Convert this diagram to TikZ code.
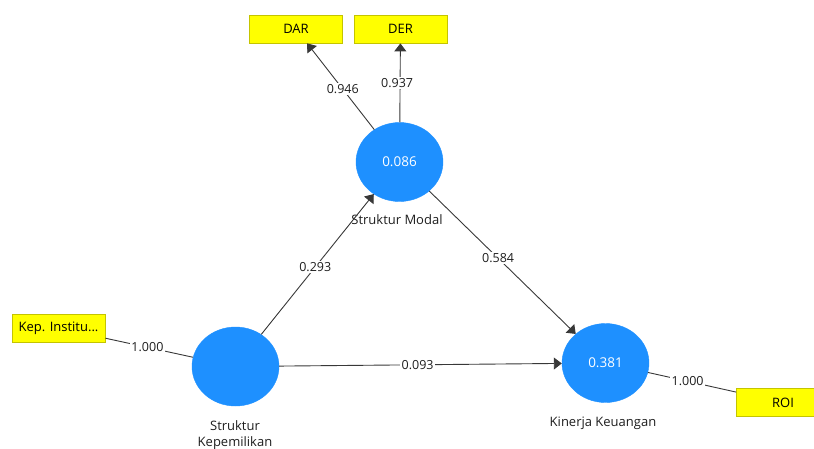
\documentclass[tikz,border=0pt]{standalone}
\usepackage{fontspec}
\setmainfont{Open Sans}
\usetikzlibrary{arrows.meta,shapes.geometric}
\definecolor{lvfill}{RGB}{30,144,255}
\definecolor{indfill}{RGB}{255,255,0}
\definecolor{indline}{RGB}{196,196,0}
\definecolor{lncol}{RGB}{56,56,56}
\definecolor{txcol}{RGB}{30,30,30}
\begin{document}
\begin{tikzpicture}[x=1pt,y=-1pt,
  lvar/.style={ellipse,fill=lvfill,draw=lvfill,minimum width=87pt,minimum height=79pt,inner sep=0pt,text=white,font=\fontsize{13.5}{15}\selectfont},
  mvar/.style={rectangle,fill=indfill,draw=indline,line width=0.8pt,minimum width=93pt,minimum height=28pt,inner sep=0pt,text=black,font=\fontsize{13}{15}\selectfont},
  conn/.style={draw=lncol,line width=0.9pt},
  arr/.style={conn,-{Triangle[length=8pt,width=12pt]}},
  wt/.style={fill=white,inner sep=1.5pt,text=txcol,font=\fontsize{12.5}{14}\selectfont},
  capt/.style={align=center,text=txcol,font=\fontsize{13}{16}\selectfont,inner sep=0pt}
]
\useasboundingbox (0,0) rectangle (814,448);
% latent variables
\node[lvar] (sm) at (399.5,162) {0.086};
\node[lvar] (sk) at (235.5,366.5) {};
\node[lvar] (kk) at (605.5,363) {0.381};
% indicators
\node[mvar] (dar) at (296,29) {DAR};
\node[mvar] (der) at (400.5,29) {DER};
\node[mvar] (kep) at (58.5,328) {Kep. Institu...};
\node[mvar] (roi) at (783,402.5) {ROI};
% captions
\node[capt] (smc) at (397,220) {Struktur Modal};
\node[capt] (skc) at (235,435) {Struktur\\Kepemilikan};
\node[capt] (kkc) at (603,423) {Kinerja Keuangan};
% connectors
\draw[arr] (sm) -- node[wt,pos=0.47] {0.946} (dar);
\draw[arr] (sm) -- node[wt,pos=0.5,xshift=-3pt] {0.937} (der);
\draw[arr] (sk) -- node[wt,pos=0.48] {0.293} (sm);
\draw[arr] (sm) -- node[wt,pos=0.47] {0.584} (kk);
\draw[arr] (sk) -- node[wt,pos=0.49] {0.093} (kk);
\draw[conn] (kep) -- node[wt,pos=0.48] {1.000} (sk);
\draw[conn] (kk) -- node[wt,pos=0.45] {1.000} (roi);
\end{tikzpicture}
\end{document}
